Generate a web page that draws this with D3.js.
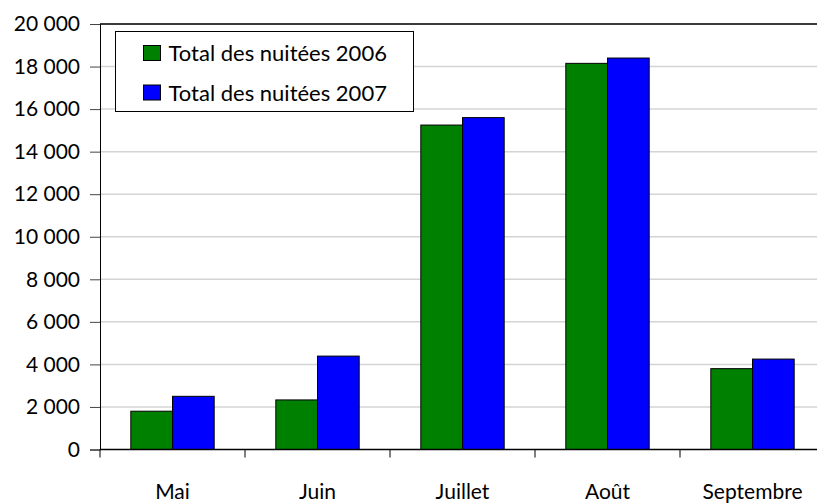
<!DOCTYPE html>
<html>
<head>
<meta charset="utf-8" />
<script src="https://d3js.org/d3.v7.min.js"></script>
<style>
  body { margin: 0; background: #fff; }
  text { font-family: "Gill Sans", Lato, "Open Sans", sans-serif; fill: #000; }
</style>
</head>
<body>
<div id="chart"></div>
<script>
// data
var months = ["Mai", "Juin", "Juillet", "Août", "Septembre"];
var seriesNames = ["Total des nuitées 2006", "Total des nuitées 2007"];
var seriesColors = ["#008000", "#0000ff"];
var values2006 = [1800, 2330, 15250, 18150, 3800];
var values2007 = [2500, 4390, 15600, 18400, 4250];
var yTicks = [0, 2000, 4000, 6000, 8000, 10000, 12000, 14000, 16000, 18000, 20000];

var W = 817, H = 504;
var margin = {top: 24, left: 100, bottom: 54.5};
var plotRight = 825;   // the plot runs past the right edge in the original
var height = H - margin.top - margin.bottom;

var svg = d3.select("#chart").append("svg")
  .attr("width", W)
  .attr("height", H);

var fr = d3.formatLocale({decimal: ",", thousands: "\u00a0", grouping: [3], currency: ["", " €"]});
var fmt = fr.format(",d");

var x = d3.scaleBand()
  .domain(months)
  .range([margin.left, plotRight])
  .paddingInner(0)
  .paddingOuter(0);

var groupW = x.bandwidth() * 0.575;
var x1 = d3.scaleBand()
  .domain([0, 1])
  .range([(x.bandwidth() - groupW) / 2, (x.bandwidth() + groupW) / 2]);

var y = d3.scaleLinear()
  .domain([0, 20000])
  .range([margin.top + height, margin.top]);

// grid lines
svg.append("g").selectAll("line")
  .data(yTicks.filter(function(d) { return d > 0 && d < 20000; }))
  .enter().append("line")
  .attr("x1", margin.left).attr("x2", plotRight)
  .attr("y1", function(d) { return y(d); })
  .attr("y2", function(d) { return y(d); })
  .attr("stroke", "#d4d4d4")
  .attr("stroke-width", 1.5);

// top border
svg.append("line")
  .attr("x1", margin.left).attr("x2", plotRight)
  .attr("y1", y(20000)).attr("y2", y(20000))
  .attr("stroke", "#3a3a3a")
  .attr("stroke-width", 2);

// bars
var rows = months.map(function(m, i) { return {month: m, vals: [values2006[i], values2007[i]]}; });
var groups = svg.append("g").selectAll("g")
  .data(rows)
  .enter().append("g")
  .attr("transform", function(d) { return "translate(" + x(d.month) + ",0)"; });

groups.selectAll("rect")
  .data(function(d) { return d.vals.map(function(v, k) { return {k: k, v: v}; }); })
  .enter().append("rect")
  .attr("x", function(d) { return x1(d.k); })
  .attr("width", x1.bandwidth())
  .attr("y", function(d) { return y(d.v); })
  .attr("height", function(d) { return y(0) - y(d.v); })
  .attr("fill", function(d) { return seriesColors[d.k]; })
  .attr("stroke", "#000")
  .attr("stroke-width", 1);

// y axis
var yAxis = svg.append("g")
  .attr("transform", "translate(" + margin.left + ",0)")
  .call(d3.axisLeft(y).tickValues(yTicks).tickFormat(fmt).tickSize(10).tickPadding(10));
yAxis.select(".domain").attr("stroke", "#000");
yAxis.selectAll(".tick line").attr("stroke", "#444");
yAxis.selectAll("text").style("font-size", "21px");

// x axis
var xAxis = svg.append("g")
  .attr("transform", "translate(0," + y(0) + ")");
xAxis.append("line")
  .attr("x1", margin.left).attr("x2", plotRight)
  .attr("stroke", "#000").attr("stroke-width", 1.5);
xAxis.selectAll(".sep")
  .data(months)
  .enter().append("line")
  .attr("class", "sep")
  .attr("x1", function(d) { return x(d); })
  .attr("x2", function(d) { return x(d); })
  .attr("y1", 0).attr("y2", 8)
  .attr("stroke", "#000");
xAxis.selectAll(".lbl")
  .data(months)
  .enter().append("text")
  .attr("class", "lbl")
  .attr("x", function(d) { return x(d) + x.bandwidth() / 2; })
  .attr("y", 49.5)
  .attr("text-anchor", "middle")
  .style("font-size", "21px")
  .text(function(d) { return d; });

// legend
var legend = svg.append("g").attr("transform", "translate(115.5,31.5)");
legend.append("rect")
  .attr("width", 298).attr("height", 80)
  .attr("fill", "#fff").attr("stroke", "#000").attr("stroke-width", 1);
var li = legend.selectAll(".item")
  .data(seriesNames)
  .enter().append("g")
  .attr("class", "item")
  .attr("transform", function(d, i) { return "translate(0," + (i * 39.5) + ")"; });
li.append("rect")
  .attr("x", 28).attr("y", 14)
  .attr("width", 17).attr("height", 15)
  .attr("fill", function(d, i) { return seriesColors[i]; })
  .attr("stroke", "#000");
li.append("text")
  .attr("x", 53).attr("y", 29.5)
  .style("font-size", "22px")
  .text(function(d) { return d; });
</script>
</body>
</html>
